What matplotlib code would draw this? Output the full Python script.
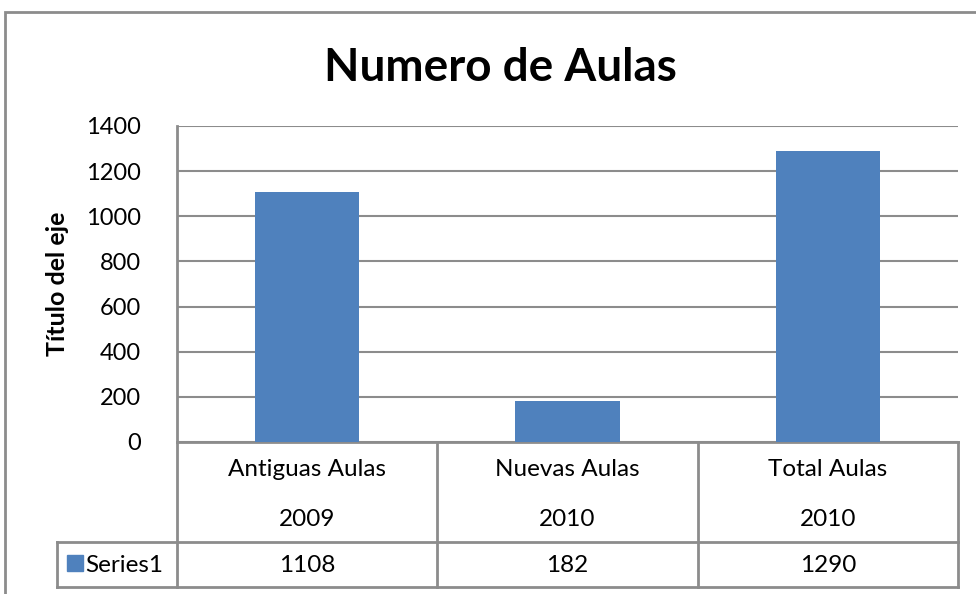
import matplotlib
matplotlib.use("Agg")
import matplotlib.pyplot as plt
import matplotlib.transforms as mtransforms
from matplotlib.patches import Rectangle

# datos
categorias = ["Antiguas Aulas", "Nuevas Aulas", "Total Aulas"]
anios = ["2009", "2010", "2010"]
valores = [1108, 182, 1290]
serie = "Series1"
ticks_y = [0, 200, 400, 600, 800, 1000, 1200, 1400]

plt.rcParams['font.family'] = ['Lato', 'DejaVu Sans']

W, H = 976, 594
AZUL = '#4F81BD'
GRIS = '#8C8C8C'

fig = plt.figure(figsize=(W / 100, H / 100), dpi=100)

def fx(px):
    return px / W

def fy(py):
    return 1 - py / H

# borde exterior del grafico
fig.patches.append(Rectangle((fx(5), fy(640)), fx(1100), fy(12) - fy(640),
                             transform=fig.transFigure, fill=False,
                             edgecolor=GRIS, lw=2))

# area de trazado
x0, x1, y0, y1 = 177, 958, 126, 442
ax = fig.add_axes([fx(x0), fy(y1), fx(x1) - fx(x0), fy(y0) - fy(y1)])

pos = list(range(len(valores)))
ax.bar(pos, valores, width=0.4, color=AZUL, zorder=3)
ax.set_xlim(-0.5, len(valores) - 0.5)
ax.set_ylim(0, 1400)
ax.set_yticks(ticks_y)
ax.set_xticks([])
ax.yaxis.grid(True, color=GRIS, lw=1.5, zorder=0)
ax.tick_params(axis='y', length=0, labelsize=17, pad=26)
for s in ['right', 'top']:
    ax.spines[s].set_visible(False)
for s in ['left', 'bottom']:
    ax.spines[s].set_color(GRIS)
    ax.spines[s].set_linewidth(2)

ax.set_ylabel("Título del eje", fontsize=18, fontweight='bold', labelpad=12)

fig.text(fx(500), fy(68), "Numero de Aulas", ha='center', va='center',
         fontsize=33, fontweight='bold')

# tabla de datos
alto = y1 - y0
def ya(py):
    return (y1 - py) / alto

trans = mtransforms.blended_transform_factory(ax.transData, ax.transAxes)
lin = dict(color=GRIS, lw=2, clip_on=False, solid_capstyle='projecting')

# lineas verticales de la tabla
for b in [p - 0.5 for p in pos] + [pos[-1] + 0.5]:
    ax.plot([b, b], [0, ya(587)], transform=trans, **lin)

izq = -0.5 - (x0 - 57) / ((x1 - x0) / len(valores))
for py in [542, 587]:
    ax.plot([izq, pos[-1] + 0.5], [ya(py), ya(py)], transform=trans, **lin)
ax.plot([izq, izq], [ya(542), ya(587)], transform=trans, **lin)

for p, c, a, v in zip(pos, categorias, anios, valores):
    ax.text(p, ya(470), c, transform=trans, ha='center', va='center', fontsize=17.5)
    ax.text(p, ya(519), a, transform=trans, ha='center', va='center', fontsize=17.5)
    ax.text(p, ya(566), str(v), transform=trans, ha='center', va='center', fontsize=17.5)

# clave de leyenda
fig.patches.append(Rectangle((fx(67), fy(571)), fx(16), fy(555) - fy(571),
                             transform=fig.transFigure, color=AZUL))
fig.text(fx(85), fy(565), serie, ha='left', va='center', fontsize=17.5)

fig.savefig("out.png", dpi=100)
